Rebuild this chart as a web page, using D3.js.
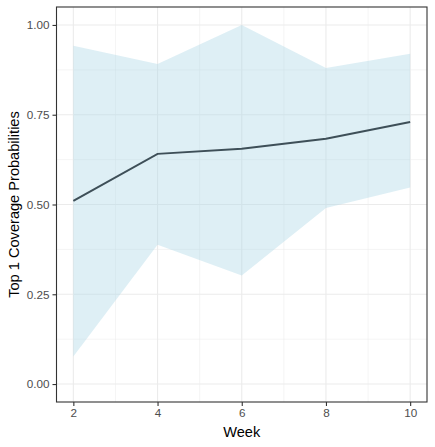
<!DOCTYPE html>
<html>
<head>
<meta charset="utf-8">
<script src="https://cdn.jsdelivr.net/npm/d3@7"></script>
<style>
  body { margin: 0; background: #fff; }
  svg { font-family: "Liberation Sans", Arial, sans-serif; }
</style>
</head>
<body>
<div id="vis"></div>
<script>
// chart values
const weeks = [2, 4, 6, 8, 10];
const coverage = [0.51, 0.641, 0.655, 0.683, 0.73];
const upper = [0.942, 0.891, 1.0, 0.88, 0.92];
const lower = [0.077, 0.388, 0.302, 0.49, 0.547];
const yTicks = [0, 0.25, 0.5, 0.75, 1];
const xTicks = [2, 4, 6, 8, 10];

const WIDTH = 435, HEIGHT = 447;
const MARGINS = { left: 56.5, top: 7, right: 8, bottom: 45 };

const svg = d3.select("#vis")
  .append("svg")
    .attr("width", WIDTH)
    .attr("height", HEIGHT);

const x = d3.scaleLinear()
  .domain([1.6, 10.4])
  .range([MARGINS.left, WIDTH - MARGINS.right]);

const y = d3.scaleLinear()
  .domain([-0.05, 1.05])
  .range([HEIGHT - MARGINS.bottom, MARGINS.top]);

// grid: minor lines first, then major
const xMinor = [3, 5, 7, 9];
const yMinor = [0.125, 0.375, 0.625, 0.875];

svg.append("g").selectAll("line")
  .data(xMinor).enter().append("line")
    .attr("x1", d => x(d)).attr("x2", d => x(d))
    .attr("y1", y.range()[1]).attr("y2", y.range()[0])
    .attr("stroke", "#EBEBEB").attr("stroke-width", 0.55);
svg.append("g").selectAll("line")
  .data(yMinor).enter().append("line")
    .attr("y1", d => y(d)).attr("y2", d => y(d))
    .attr("x1", x.range()[0]).attr("x2", x.range()[1])
    .attr("stroke", "#EBEBEB").attr("stroke-width", 0.55);
svg.append("g").selectAll("line")
  .data(xTicks).enter().append("line")
    .attr("x1", d => x(d)).attr("x2", d => x(d))
    .attr("y1", y.range()[1]).attr("y2", y.range()[0])
    .attr("stroke", "#EBEBEB").attr("stroke-width", 1.1);
svg.append("g").selectAll("line")
  .data(yTicks).enter().append("line")
    .attr("y1", d => y(d)).attr("y2", d => y(d))
    .attr("x1", x.range()[0]).attr("x2", x.range()[1])
    .attr("stroke", "#EBEBEB").attr("stroke-width", 1.1);

// ribbon
const area = d3.area()
  .x((d, i) => x(weeks[i]))
  .y0((d, i) => y(lower[i]))
  .y1((d, i) => y(upper[i]));

svg.append("path")
  .datum(weeks)
  .attr("d", area)
  .attr("fill", "#ADD8E6")
  .attr("fill-opacity", 0.4);

// line
const line = d3.line()
  .x((d, i) => x(weeks[i]))
  .y(d => y(d));

svg.append("path")
  .datum(coverage)
  .attr("d", line)
  .attr("fill", "none")
  .attr("stroke", "#3E4F58")
  .attr("stroke-width", 2);

// panel border
svg.append("rect")
  .attr("x", x.range()[0]).attr("y", y.range()[1])
  .attr("width", x.range()[1] - x.range()[0])
  .attr("height", y.range()[0] - y.range()[1])
  .attr("fill", "none")
  .attr("stroke", "#333333")
  .attr("stroke-width", 1.1);

// axes
const xAxis = svg.append("g")
  .attr("transform", `translate(0,${y.range()[0]})`)
  .call(d3.axisBottom(x).tickValues(xTicks).tickSize(4).tickPadding(3).tickFormat(d3.format("d")));
const yAxis = svg.append("g")
  .attr("transform", `translate(${x.range()[0]},0)`)
  .call(d3.axisLeft(y).tickValues(yTicks).tickSize(4).tickPadding(3).tickFormat(d3.format(".2f")));

[xAxis, yAxis].forEach(g => {
  g.select(".domain").remove();
  g.selectAll(".tick line").attr("stroke", "#333333").attr("stroke-width", 1.1);
  g.selectAll(".tick text")
    .attr("fill", "#4D4D4D")
    .style("font-size", "11.7px")
    .style("font-family", "'Liberation Sans', Arial, sans-serif");
});

// axis titles
svg.append("text")
  .attr("x", (x.range()[0] + x.range()[1]) / 2)
  .attr("y", 437)
  .attr("text-anchor", "middle")
  .style("font-size", "14.6px")
  .text("Week");

svg.append("text")
  .attr("transform", `translate(19,${(y.range()[0] + y.range()[1]) / 2}) rotate(-90)`)
  .attr("text-anchor", "middle")
  .style("font-size", "14.6px")
  .text("Top 1 Coverage Probabilities");
</script>
</body>
</html>
